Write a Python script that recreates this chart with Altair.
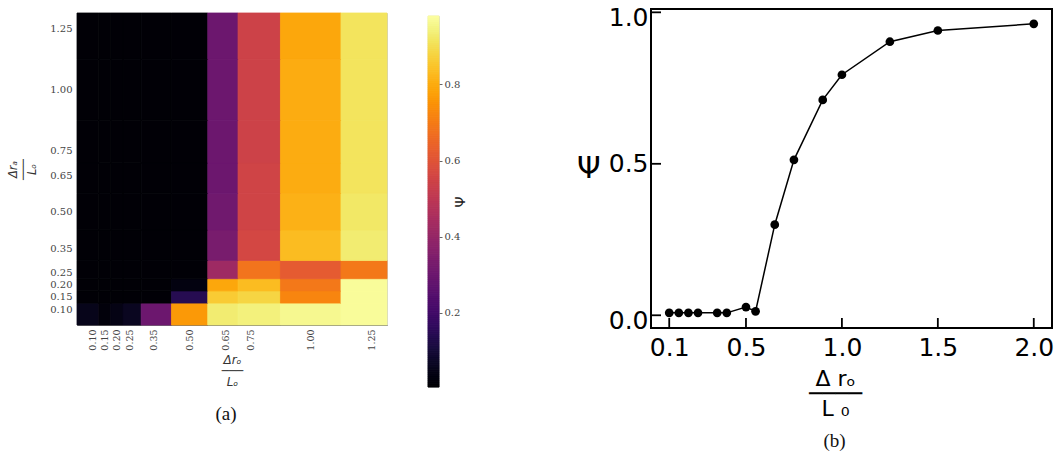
import altair as alt
import pandas as pd

# ---------------- data: panel (a) heatmap ----------------
ratio_vals = [0.10, 0.15, 0.20, 0.25, 0.35, 0.50, 0.65, 0.75, 1.00, 1.25]
# Psi for each row (y = ratio_vals[i]), columns follow ratio_vals (x)
psi_y010 = [0.05, 0.02, 0.04, 0.06, 0.30, 0.76, 0.93, 0.94, 0.96, 0.97]
psi_y015 = [0.01, 0.01, 0.01, 0.01, 0.01, 0.14, 0.86, 0.88, 0.72, 0.97]
psi_y020 = [0.01, 0.01, 0.01, 0.01, 0.01, 0.03, 0.79, 0.83, 0.69, 0.97]
psi_y025 = [0.01, 0.01, 0.01, 0.01, 0.01, 0.01, 0.42, 0.68, 0.62, 0.69]
psi_y035 = [0.01, 0.01, 0.01, 0.01, 0.01, 0.01, 0.33, 0.56, 0.83, 0.93]
psi_y050 = [0.01, 0.01, 0.01, 0.01, 0.01, 0.01, 0.31, 0.55, 0.81, 0.92]
psi_y065 = [0.01, 0.01, 0.01, 0.01, 0.01, 0.01, 0.30, 0.55, 0.80, 0.91]
psi_y075 = [0.01, 0.01, 0.01, 0.01, 0.01, 0.01, 0.30, 0.54, 0.80, 0.91]
psi_y100 = [0.01, 0.01, 0.01, 0.01, 0.01, 0.01, 0.30, 0.54, 0.80, 0.91]
psi_y125 = [0.01, 0.01, 0.01, 0.01, 0.01, 0.01, 0.30, 0.54, 0.79, 0.91]
psi_rows = [psi_y010, psi_y015, psi_y020, psi_y025, psi_y035,
            psi_y050, psi_y065, psi_y075, psi_y100, psi_y125]

heat_domain = [0.035, 1.315]
psi_range = [0.005, 0.98]
cbar_ticks = [0.2, 0.4, 0.6, 0.8]

# ---------------- data: panel (b) curve ----------------
ratio_b = [0.10, 0.15, 0.20, 0.25, 0.35, 0.40, 0.50, 0.55, 0.65, 0.75,
           0.90, 1.00, 1.25, 1.50, 2.00]
psi_b = [0.008, 0.008, 0.008, 0.008, 0.008, 0.008, 0.027, 0.013, 0.299,
         0.513, 0.711, 0.794, 0.903, 0.940, 0.962]
b_xticks = [0.1, 0.5, 1.0, 1.5, 2.0]
b_yticks = [0.0, 0.5, 1.0]
b_xdomain = [0.005, 2.095]
b_ydomain = [-0.042, 1.011]


def cell_edges(vals, dom):
    lo, hi = [], []
    for k, v in enumerate(vals):
        lo.append(dom[0] if k == 0 else (vals[k - 1] + v) / 2)
        hi.append(dom[1] if k == len(vals) - 1 else (vals[k + 1] + v) / 2)
    return lo, hi


elo, ehi = cell_edges(ratio_vals, heat_domain)
rows = []
for i, yv in enumerate(ratio_vals):
    for j, xv in enumerate(ratio_vals):
        rows.append({"x0": elo[j], "x1": ehi[j], "y0": elo[i], "y1": ehi[i],
                     "psi": psi_rows[i][j]})
heat_df = pd.DataFrame(rows)

color_scale = alt.Scale(scheme="inferno", domain=psi_range)
serif = "DejaVu Serif"

heat = alt.Chart(heat_df).mark_rect(strokeWidth=0.8).encode(
    x=alt.X("x0:Q", scale=alt.Scale(domain=heat_domain, nice=False, zero=False),
            axis=alt.Axis(values=ratio_vals, format=".2f", labelAngle=270,
                          labelFont=serif, labelFontSize=9.5, labelColor="#444",
                          labelPadding=4, ticks=False, grid=False,
                          domainColor="#777", domainWidth=1, labelFlush=False,
                          labelOverlap=False,
                          title=["Δrₒ", "───", "Lₒ"], titleFont="DejaVu Sans",
                          titleFontStyle="italic", titleFontWeight="normal",
                          titleFontSize=12, titleLineHeight=11,
                          titleColor="#333", titlePadding=4)),
    x2="x1:Q",
    y=alt.Y("y0:Q", scale=alt.Scale(domain=heat_domain, nice=False, zero=False),
            axis=alt.Axis(values=ratio_vals, format=".2f",
                          labelFont=serif, labelFontSize=10, labelColor="#444",
                          labelPadding=5, ticks=False, grid=False, domain=False,
                          labelFlush=False, labelOverlap=False,
                          title=["Δrₐ", "───", "Lₒ"], titleFont="DejaVu Sans",
                          titleFontStyle="italic", titleFontWeight="normal",
                          titleFontSize=11.5, titleLineHeight=9.5,
                          titleColor="#333", titlePadding=12)),
    y2="y1:Q",
    color=alt.Color("psi:Q", scale=color_scale, legend=None),
    stroke=alt.Stroke("psi:Q", scale=color_scale, legend=None),
).properties(
    width=310, height=312,
    view=alt.ViewBackground(stroke="#cccccc", strokeWidth=1),
    title=alt.TitleParams("(a)", orient="bottom", font="Liberation Serif",
                          fontSize=19, fontWeight="normal", offset=18, dx=-6,
                          color="#111"),
)

# colour bar
cbar = alt.Chart(alt.sequence(psi_range[0], psi_range[1], 0.005, as_="v")).transform_calculate(
    v2="datum.v + 0.005"
).mark_rect(strokeWidth=1).encode(
    y=alt.Y("v:Q", scale=alt.Scale(domain=psi_range, nice=False, zero=False),
            axis=alt.Axis(orient="right", values=cbar_ticks, format=".1f",
                          labelFont=serif, labelFontSize=10, labelColor="#444",
                          tickSize=3, tickColor="#666", labelPadding=2,
                          domain=False, grid=False,
                          title="Ψ", titleAngle=270, titleFont="DejaVu Sans",
                          titleFontSize=14, titleFontWeight="normal",
                          titleColor="#222", titlePadding=8)),
    y2="v2:Q",
    color=alt.Color("v:Q", scale=color_scale, legend=None),
    stroke=alt.Stroke("v:Q", scale=color_scale, legend=None),
).properties(width=11, height=371,
             view=alt.ViewBackground(stroke="#bbbbbb", strokeWidth=0.8))


def spacer(h):
    return alt.Chart(pd.DataFrame({"s": [0]})).mark_point(opacity=0, size=1).properties(
        width=5, height=h, view=alt.ViewBackground(stroke="transparent"))


heat_col = alt.vconcat(spacer(2), heat, spacing=0)
cbar_col = alt.vconcat(spacer(5), cbar, spacing=0)

# ---------------- panel (b) ----------------
b_df = pd.DataFrame({"r": ratio_b, "psi": psi_b})
sans = "DejaVu Sans"
bx = alt.Scale(domain=b_xdomain, nice=False, zero=False)
by = alt.Scale(domain=b_ydomain, nice=False, zero=False)

main_x = alt.X("r:Q", scale=bx, axis=alt.Axis(
    values=b_xticks, format=".1f", labelFont=sans, labelFontSize=25,
    labelColor="black", ticks=False, domain=False, grid=False, labelFlush=False,
    labelPadding=7, title=["Δ rₒ", "────", "L ₀"], titleFont=sans,
    titleFontSize=22, titleFontWeight="normal", titleLineHeight=15,
    titleColor="black", titlePadding=8, titleX=184))
main_y = alt.Y("psi:Q", scale=by, axis=alt.Axis(
    values=b_yticks, format=".1f", labelFont=sans, labelFontSize=25,
    labelColor="black", ticks=False, domain=False, grid=False, labelFlush=False,
    labelOffset={"condition": {"test": "datum.value === 0.5", "value": 0}, "value": 5},
    labelPadding=3, title="Ψ", titleAngle=0, titleFont=sans, titleFontSize=30,
    titleFontWeight="normal", titleColor="black", titlePadding=8,
    titleBaseline="middle", titleAlign="right"))

line = alt.Chart(b_df).mark_line(
    color="black", strokeWidth=1.5,
    point=alt.OverlayMarkDef(filled=True, color="black", size=76, opacity=1),
).encode(x=main_x, y=main_y)

# inward-pointing ticks (half of each tick is clipped by the frame)
xt_df = pd.DataFrame({"r": b_xticks, "psi": [b_ydomain[0]] * len(b_xticks)})
yt_df = pd.DataFrame({"r": [b_xdomain[0]] * len(b_yticks), "psi": b_yticks})
x_in_ticks = alt.Chart(xt_df).mark_tick(
    orient="vertical", size=20, thickness=1.8, color="black", opacity=1, clip=True
).encode(x=alt.X("r:Q", scale=bx), y=alt.Y("psi:Q", scale=by))
y_in_ticks = alt.Chart(yt_df).mark_tick(
    orient="horizontal", size=20, thickness=1.8, color="black", opacity=1, clip=True
).encode(x=alt.X("r:Q", scale=bx), y=alt.Y("psi:Q", scale=by))

right = alt.layer(line, x_in_ticks, y_in_ticks).properties(
    width=401, height=319,
    view=alt.ViewBackground(stroke="black", strokeWidth=2),
    title=alt.TitleParams("(b)", orient="bottom", font="Liberation Serif",
                          fontSize=19, fontWeight="normal", offset=13, dx=-17,
                          color="#111"),
)

left_group = alt.hconcat(heat_col, cbar_col, spacing=39)
chart = alt.hconcat(left_group, right, spacing=106).properties(
    padding={"left": 7, "top": 4, "right": 0, "bottom": 0},
    background="white",
).configure_view(stroke="transparent")

chart.save("out.html", embed_options={"renderer": "svg", "actions": False})
